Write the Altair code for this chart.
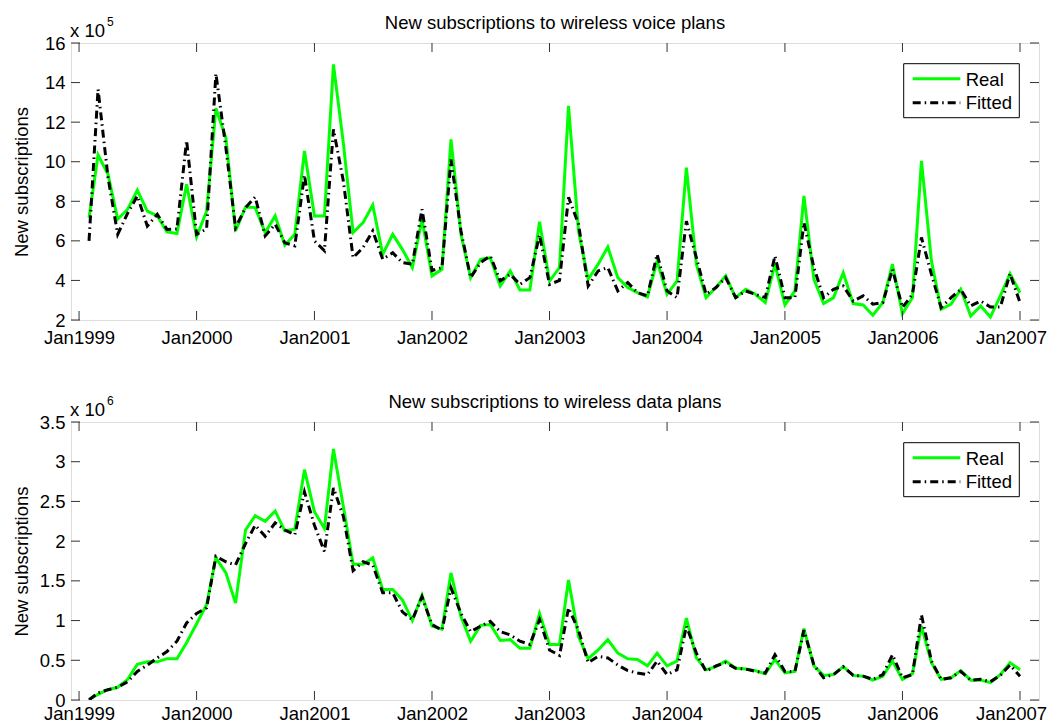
import altair as alt
import pandas as pd

# ---------------- data ----------------
START_MONTH = "1999-02-01"
series_names = ["Real", "Fitted"]
series_colors = ["#00ff00", "#000000"]

# new voice subscriptions, units of 1e5
voice_real = [7.17, 10.34, 9.36, 7.09, 7.6, 8.56, 7.5, 7.26, 6.45, 6.37, 8.86, 6.2,
              7.5, 12.7, 11.2, 6.5, 7.71, 7.68, 6.42, 7.26, 5.78, 6.33, 10.54, 7.26,
              7.26, 14.92, 10.9, 6.42, 6.92, 7.81, 5.32, 6.33, 5.57, 4.65, 7.09, 4.23,
              4.56, 11.13, 6.33, 4.14, 5.07, 5.15, 3.72, 4.48, 3.52, 3.52, 6.97, 3.97,
              4.65, 12.82, 6.5, 4.06, 4.82, 5.69, 4.14, 3.64, 3.38, 3.17, 4.98, 3.3,
              3.97, 9.7, 4.82, 3.13, 3.64, 4.23, 3.13, 3.55, 3.3, 2.88, 4.82, 2.76,
              3.47, 8.27, 4.06, 2.83, 3.13, 4.39, 2.83, 2.76, 2.24, 2.88, 4.82, 2.32,
              3.13, 10.04, 4.98, 2.54, 2.8, 3.55, 2.2, 2.71, 2.15, 3.22, 4.34, 3.38]
voice_fit = [6.0, 13.66, 9.2, 6.33, 7.4, 8.27, 6.75, 7.34, 6.58, 6.6, 11.08, 6.33,
             6.6, 14.45, 10.7, 6.67, 7.68, 8.22, 6.25, 6.84, 5.9, 5.75, 9.33, 6.0,
             5.5, 11.64, 9.0, 5.15, 5.66, 6.5, 5.07, 5.4, 4.9, 4.82, 7.6, 4.5,
             4.65, 10.12, 6.5, 4.14, 4.9, 5.24, 3.98, 4.31, 3.8, 4.14, 6.3, 3.8,
             4.0, 8.2, 6.84, 3.72, 4.48, 4.65, 3.47, 3.89, 3.38, 3.22, 5.32, 3.47,
             3.13, 7.0, 5.15, 3.3, 3.64, 4.14, 3.13, 3.47, 3.3, 3.13, 5.24, 3.13,
             3.13, 6.92, 4.65, 3.13, 3.55, 3.72, 2.96, 3.22, 2.8, 2.88, 4.56, 2.63,
             3.3, 6.17, 4.31, 2.63, 3.13, 3.55, 2.71, 2.96, 2.66, 2.66, 4.34, 2.88]

# new data subscriptions, units of 1e6
data_real = [0.01, 0.07, 0.13, 0.16, 0.26, 0.45, 0.48, 0.48, 0.52, 0.52, 0.72, 0.96,
             1.2, 1.79, 1.6, 1.22, 2.14, 2.32, 2.25, 2.38, 2.13, 2.15, 2.9, 2.37,
             2.16, 3.16, 2.43, 1.71, 1.71, 1.79, 1.39, 1.39, 1.26, 1.0, 1.32, 0.93,
             0.89, 1.6, 1.05, 0.74, 0.94, 0.95, 0.75, 0.76, 0.65, 0.65, 1.09, 0.7,
             0.7, 1.51, 0.8, 0.52, 0.63, 0.76, 0.59, 0.52, 0.51, 0.43, 0.59, 0.43,
             0.49, 1.03, 0.53, 0.38, 0.42, 0.49, 0.4, 0.39, 0.37, 0.33, 0.51, 0.34,
             0.36, 0.9, 0.43, 0.31, 0.32, 0.42, 0.31, 0.3, 0.25, 0.3, 0.49, 0.26,
             0.33, 0.93, 0.47, 0.26, 0.28, 0.37, 0.25, 0.25, 0.22, 0.32, 0.47, 0.38]
data_fit = [0.0, 0.09, 0.13, 0.16, 0.23, 0.36, 0.44, 0.53, 0.61, 0.74, 0.97, 1.09,
            1.16, 1.81, 1.74, 1.7, 1.97, 2.2, 2.06, 2.23, 2.14, 2.08, 2.62, 2.2,
            1.87, 2.67, 2.31, 1.63, 1.74, 1.7, 1.35, 1.35, 1.11, 1.01, 1.3, 0.95,
            0.88, 1.41, 1.09, 0.86, 0.93, 0.99, 0.86, 0.82, 0.74, 0.7, 1.01, 0.63,
            0.56, 1.16, 0.88, 0.47, 0.55, 0.53, 0.44, 0.37, 0.34, 0.32, 0.49, 0.32,
            0.38, 0.93, 0.59, 0.36, 0.43, 0.47, 0.4, 0.39, 0.36, 0.34, 0.57, 0.36,
            0.36, 0.88, 0.44, 0.28, 0.32, 0.42, 0.31, 0.3, 0.26, 0.32, 0.57, 0.28,
            0.32, 1.07, 0.49, 0.26, 0.28, 0.36, 0.25, 0.26, 0.23, 0.31, 0.44, 0.3]

tick_years = [1999, 2000, 2001, 2002, 2003, 2004, 2005, 2006, 2007]
voice_yticks = [2, 4, 6, 8, 10, 12, 14, 16]
data_yticks = [0, 0.5, 1, 1.5, 2, 2.5, 3, 3.5]

titles = ["New subscriptions to wireless voice plans",
          "New subscriptions to wireless data plans"]
y_title = "New subscriptions"
exponents = ["5", "6"]

# ---------------- layout / style ----------------
W = 968
H_TOP, H_BOT = 277, 278
FONT = "Liberation Sans"
FS = 18.5
TICK_LEN = 9

months = pd.date_range(START_MONTH, periods=len(voice_real), freq="MS").strftime("%Y-%m-%d").tolist()
one_row = pd.DataFrame({"k": [0]})

x_domain = [alt.DateTime(year=1998, month=12, date=7, utc=True),
            alt.DateTime(year=2007, month=3, date=1, utc=True)]


def panel(real, fit, yticks, ydom, H, title, expo, xlab_pad):
    x_enc = alt.X(
        "date:T",
        scale=alt.Scale(type="utc", domain=x_domain),
        axis=alt.Axis(values=[alt.DateTime(year=y, month=1, date=1, utc=True) for y in tick_years],
                      labelExpr="utcFormat(datum.value, '%b%Y')", labelFontSize=FS, labelFont=FONT,
                      labelColor="black", labelPadding=xlab_pad, ticks=False, domain=False,
                      grid=False, title=None, labelFlush=False, labelOverlap=False,
                      labelOffset={"condition": {"test": "utcyear(datum.value) == 2007", "value": -9},
                                   "value": 0}),
    )
    y_enc = alt.Y(
        "value:Q",
        scale=alt.Scale(domain=ydom, nice=False, zero=False),
        axis=alt.Axis(values=yticks, format="~g", labelFontSize=FS, labelFont=FONT,
                      labelColor="black", labelPadding=6, ticks=False, domain=False,
                      grid=False, title=y_title, titleFontSize=FS, titleFont=FONT,
                      titleFontWeight="normal", titleColor="black", titleX=-44,
                      titleBaseline="alphabetic", labelOverlap=False),
    )

    df_real = pd.DataFrame({"date": months, "value": real})
    df_fit = pd.DataFrame({"date": months, "value": fit})

    real_line = alt.Chart(df_real).mark_line(
        color=series_colors[0], strokeWidth=3, clip=True
    ).encode(x=x_enc, y=y_enc)
    fit_line = alt.Chart(df_fit).mark_line(
        color=series_colors[1], strokeWidth=3, strokeDash=[8, 4, 1.5, 4], clip=True
    ).encode(x=x_enc, y=y_enc)

    ytdf = pd.DataFrame({"value": yticks})
    xtdf = pd.DataFrame({"date": [f"{y}-01-01" for y in tick_years]})
    tick_style = dict(color="#333333", strokeWidth=1)
    yt_left = alt.Chart(ytdf).mark_rule(**tick_style).encode(
        y=y_enc, x=alt.value(0), x2=alt.value(TICK_LEN))
    yt_right = alt.Chart(ytdf).mark_rule(**tick_style).encode(
        y=y_enc, x=alt.value(W - TICK_LEN), x2=alt.value(W))
    xt_bot = alt.Chart(xtdf).mark_rule(**tick_style).encode(
        x=x_enc, y=alt.value(H), y2=alt.value(H - TICK_LEN))
    xt_top = alt.Chart(xtdf).mark_rule(**tick_style).encode(
        x=x_enc, y=alt.value(0), y2=alt.value(TICK_LEN))

    title_txt = alt.Chart(one_row).mark_text(
        font=FONT, fontSize=FS, align="center", baseline="alphabetic", color="black"
    ).encode(x=alt.value(W / 2), y=alt.value(-13.7), text=alt.value(title))
    x10 = alt.Chart(one_row).mark_text(
        font=FONT, fontSize=FS, align="left", baseline="alphabetic", color="black"
    ).encode(x=alt.value(-1), y=alt.value(-6.5), text=alt.value("x 10"))
    exp_txt = alt.Chart(one_row).mark_text(
        font=FONT, fontSize=12, align="left", baseline="alphabetic", color="black"
    ).encode(x=alt.value(36), y=alt.value(-17.5), text=alt.value(expo))

    # legend box
    lx0, lx1, ly0, ly1 = W - 135.3, W - 19.7, 20.7, 74.7
    leg_box = alt.Chart(one_row).mark_rect(
        fill="white", stroke="black", strokeWidth=1
    ).encode(x=alt.value(lx0), x2=alt.value(lx1), y=alt.value(ly0), y2=alt.value(ly1))
    leg_real = alt.Chart(one_row).mark_rule(
        color=series_colors[0], strokeWidth=3
    ).encode(x=alt.value(lx0 + 9), x2=alt.value(lx0 + 56.6), y=alt.value(ly0 + 15))
    leg_fit = alt.Chart(one_row).mark_rule(
        color=series_colors[1], strokeWidth=3, strokeDash=[8, 4, 1.5, 4]
    ).encode(x=alt.value(lx0 + 9), x2=alt.value(lx0 + 56.6), y=alt.value(ly0 + 39))
    leg_t1 = alt.Chart(one_row).mark_text(
        font=FONT, fontSize=FS, align="left", baseline="alphabetic", color="black"
    ).encode(x=alt.value(lx0 + 62), y=alt.value(ly0 + 22.3), text=alt.value(series_names[0]))
    leg_t2 = alt.Chart(one_row).mark_text(
        font=FONT, fontSize=FS, align="left", baseline="alphabetic", color="black"
    ).encode(x=alt.value(lx0 + 62), y=alt.value(ly0 + 45.6), text=alt.value(series_names[1]))

    return alt.layer(
        real_line, fit_line, yt_left, yt_right, xt_bot, xt_top,
        title_txt, x10, exp_txt, leg_box, leg_real, leg_fit, leg_t1, leg_t2,
    ).properties(width=W, height=H)


top = panel(voice_real, voice_fit, voice_yticks, [2, 16], H_TOP, titles[0], exponents[0], 8)
bottom = panel(data_real, data_fit, data_yticks, [0, 3.5], H_BOT, titles[1], exponents[1], 4.5)

chart = alt.vconcat(top, bottom, spacing=45).properties(
    padding={"left": 3, "top": 5, "right": 0, "bottom": 0},
    background="white",
).configure_view(
    stroke="black", strokeWidth=1.5
).configure(font=FONT)

chart.save("out.html", embed_options={"renderer": "svg", "actions": False})
